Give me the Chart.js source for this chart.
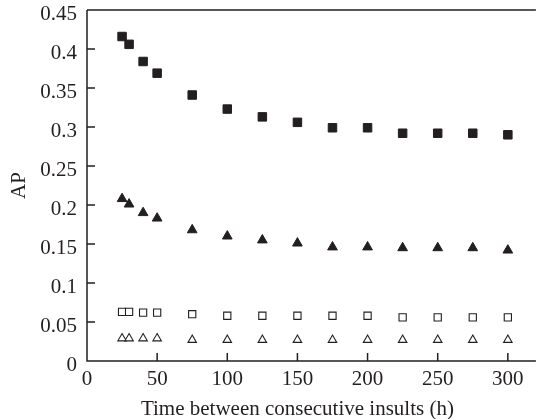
<!DOCTYPE html>
<html>
<head>
<meta charset="utf-8">
<script src="https://cdn.jsdelivr.net/npm/chart.js@4/dist/chart.umd.min.js"></script>
<style>
  html, body { margin: 0; padding: 0; background: #ffffff; }
  canvas { display: block; }
</style>
</head>
<body>
<canvas id="c" width="543" height="419"></canvas>
<script>
// ---- data ----
const xValues = [25, 30, 40, 50, 75, 100, 125, 150, 175, 200, 225, 250, 275, 300];
const filledSquares = [0.416, 0.406, 0.384, 0.369, 0.341, 0.323, 0.313, 0.306, 0.299, 0.299, 0.292, 0.292, 0.292, 0.290];
const filledTriangles = [0.208, 0.201, 0.190, 0.183, 0.168, 0.160, 0.155, 0.151, 0.146, 0.146, 0.145, 0.145, 0.145, 0.142];
const openSquares = [0.063, 0.063, 0.062, 0.062, 0.060, 0.058, 0.058, 0.058, 0.058, 0.058, 0.056, 0.056, 0.056, 0.056];
const openTriangles = [0.029, 0.029, 0.029, 0.029, 0.027, 0.027, 0.027, 0.027, 0.027, 0.027, 0.027, 0.027, 0.027, 0.027];
const xTickValues = [0, 50, 100, 150, 200, 250, 300];
const yTickValues = [0, 0.05, 0.1, 0.15, 0.2, 0.25, 0.3, 0.35, 0.4, 0.45];
const yTickLabels = ['0', '0.05', '0.1', '0.15', '0.2', '0.25', '0.3', '0.35', '0.4', '0.45'];
const xTitle = 'Time between consecutive insults (h)';
const yTitle = 'AP';

const INK = '#231f20';
const FONT = '"Liberation Serif", "Times New Roman", serif';

const toPoints = s => xValues.map((x, i) => ({ x: x, y: s[i] }));

const framePlugin = {
  id: 'frame',
  afterDraw(chart) {
    const { ctx, chartArea: a, scales: { x, y } } = chart;
    ctx.save();
    ctx.strokeStyle = INK;
    ctx.lineWidth = 1.5;
    ctx.beginPath();
    ctx.moveTo(a.left, a.top); ctx.lineTo(a.right, a.top);
    ctx.moveTo(a.left, a.top); ctx.lineTo(a.left, a.bottom); ctx.lineTo(a.right, a.bottom);
    x.ticks.forEach(t => {
      const px = x.getPixelForValue(t.value);
      ctx.moveTo(px, a.bottom); ctx.lineTo(px, a.bottom - 8);
    });
    y.ticks.forEach(t => {
      const py = y.getPixelForValue(t.value);
      ctx.moveTo(a.left, py); ctx.lineTo(a.left + 8, py);
    });
    ctx.stroke();
    ctx.fillStyle = INK;
    ctx.font = '21px ' + FONT;
    ctx.textAlign = 'center';
    ctx.textBaseline = 'alphabetic';
    ctx.fillText(xTitle, (x.getPixelForValue(xTickValues[0]) + x.getPixelForValue(xTickValues[xTickValues.length - 1])) / 2, chart.height - 4);
    ctx.restore();
  }
};

new Chart(document.getElementById('c'), {
  type: 'scatter',
  data: {
    datasets: [
      { label: 'filled squares', data: toPoints(filledSquares), pointStyle: 'rect', pointRadius: 6, borderWidth: 1, backgroundColor: INK, borderColor: INK },
      { label: 'filled triangles', data: toPoints(filledTriangles), pointStyle: 'triangle', pointRadius: 5.6, borderWidth: 1, backgroundColor: INK, borderColor: INK },
      { label: 'open squares', data: toPoints(openSquares), pointStyle: 'rect', pointRadius: 5.1, borderWidth: 1.1, backgroundColor: '#ffffff', borderColor: INK },
      { label: 'open triangles', data: toPoints(openTriangles), pointStyle: 'triangle', pointRadius: 4.9, borderWidth: 1.1, backgroundColor: '#ffffff', borderColor: INK }
    ]
  },
  options: {
    responsive: false,
    animation: false,
    devicePixelRatio: 1,
    layout: { padding: { top: 10, right: 0, left: 0, bottom: 0 } },
    plugins: { legend: { display: false }, tooltip: { enabled: false } },
    elements: { point: { hoverRadius: 6 } },
    scales: {
      x: {
        type: 'linear', min: 0, max: 320,
        grid: { display: false, drawTicks: false },
        border: { display: false },
        afterBuildTicks: s => { s.ticks = xTickValues.map(v => ({ value: v })); },
        afterFit: s => { s.height = 58; s.paddingLeft = 0; s.paddingRight = 0; },
        ticks: { color: INK, font: { family: FONT, size: 21 }, padding: 6, maxRotation: 0, callback: v => String(v) }
      },
      y: {
        type: 'linear', min: 0, max: 0.45,
        grid: { display: false, drawTicks: false },
        border: { display: false },
        afterBuildTicks: s => { s.ticks = yTickValues.map(v => ({ value: v })); },
        afterFit: s => { s.width = 87; s.paddingTop = 0; s.paddingBottom = 0; },
        ticks: { color: INK, font: { family: FONT, size: 21 }, padding: 10, labelOffset: 4, callback: (v, i) => yTickLabels[i] },
        title: { display: true, text: yTitle, color: INK, font: { family: FONT, size: 21, lineHeight: 1 }, padding: { top: 9, bottom: 0 } }
      }
    }
  },
  plugins: [framePlugin]
});
</script>
</body>
</html>
